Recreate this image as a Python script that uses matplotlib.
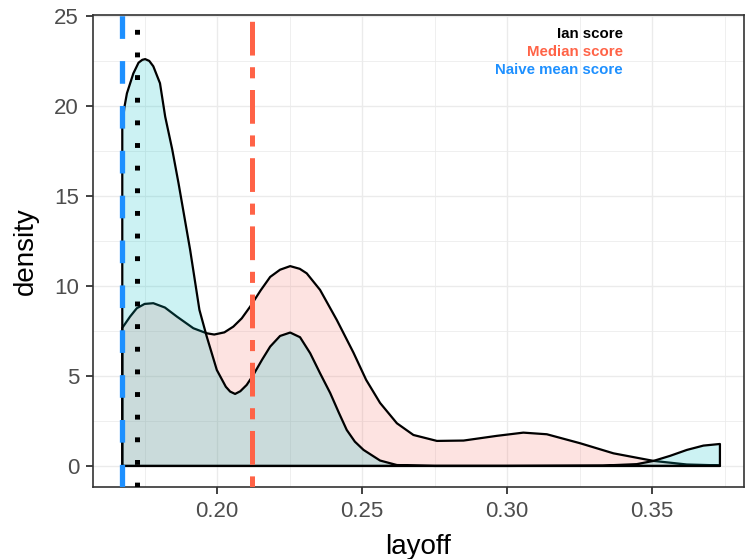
import numpy as np
import matplotlib
matplotlib.use('Agg')
from matplotlib import pyplot as plt
from matplotlib.ticker import MultipleLocator

plt.rcParams['font.family'] = ['Liberation Sans', 'DejaVu Sans']
plt.rcParams['lines.scale_dashes'] = False

# density curve, group drawn in red
red_x = [0.1673, 0.1700, 0.1723, 0.1750, 0.1780, 0.1820, 0.1861, 0.1918, 0.1964,
         0.1990, 0.2025, 0.2056, 0.2085, 0.2114, 0.2150, 0.2183, 0.2217, 0.2252,
         0.2285, 0.2309, 0.2355, 0.2413, 0.2470, 0.2514, 0.2562, 0.2620, 0.2677,
         0.2758, 0.2850, 0.2964, 0.3056, 0.3137, 0.3252, 0.3367, 0.3505, 0.3620,
         0.3734]
red_y = [7.67, 8.30, 8.76, 9.00, 9.04, 8.80, 8.30, 7.65, 7.37,
         7.30, 7.42, 7.74, 8.20, 8.85, 9.75, 10.5, 10.9, 11.1,
         10.95, 10.7, 9.78, 8.10, 6.30, 4.78, 3.50, 2.37, 1.72,
         1.39, 1.41, 1.67, 1.85, 1.76, 1.26, 0.70, 0.28, 0.08,
         0.03]

# density curve, group drawn in cyan
cyan_x = [0.1673, 0.1680, 0.1689, 0.1711, 0.1729, 0.1742, 0.1752, 0.1766, 0.1780,
          0.1803, 0.1821, 0.1845, 0.1867, 0.1907, 0.1939, 0.1964, 0.1999, 0.2030,
          0.2045, 0.2062, 0.2080, 0.2102, 0.2125, 0.2155, 0.2183, 0.2217, 0.2252,
          0.2286, 0.2321, 0.2355, 0.2390, 0.2420, 0.2447, 0.2475, 0.2505, 0.2562,
          0.2620, 0.2750, 0.3000, 0.3330, 0.3447, 0.3505, 0.3562, 0.3620, 0.3677,
          0.3734]
cyan_y = [18.8, 19.9, 20.7, 21.8, 22.4, 22.56, 22.6, 22.5, 22.2,
          21.26, 19.4, 17.6, 15.7, 12.0, 8.67, 7.20, 5.33, 4.40,
          4.13, 4.00, 4.15, 4.50, 5.06, 5.90, 6.63, 7.22, 7.41,
          7.15, 6.26, 5.15, 4.05, 2.95, 2.00, 1.35, 0.89, 0.30,
          0.05, 0.00, 0.00, 0.02, 0.10, 0.28, 0.56, 0.89, 1.13,
          1.22]

# reference lines
ian_score = 0.1725
median_score = 0.212
naive_mean_score = 0.1673

labels = ['Ian score', 'Median score', 'Naive mean score']
label_colors = ['black', 'tomato', 'dodgerblue']
label_y = [24, 23, 22]
label_x = 0.34

fig = plt.figure(figsize=(7.46, 5.59), dpi=100)
ax = fig.add_axes([93 / 746, 1 - 487 / 559, (744 - 93) / 746, (487 - 15) / 559])

red_fill = (0xF8 / 255, 0x76 / 255, 0x6D / 255, 0.2)
cyan_fill = (0x00 / 255, 0xBF / 255, 0xC4 / 255, 0.2)

for xs, ys, fc in [(red_x, red_y, red_fill), (cyan_x, cyan_y, cyan_fill)]:
    px = [xs[0]] + xs + [xs[-1]]
    py = [0] + ys + [0]
    ax.fill(px, py, facecolor=fc, edgecolor='black', lw=1.6,
            joinstyle='round', zorder=2)

ax.axvline(naive_mean_score, color='dodgerblue', lw=3.8, dashes=(16.3, 16.0),
           dash_capstyle='butt', zorder=3)
ax.axvline(median_score, color='tomato', lw=3.6, dashes=(8.0, 8.4, 24.3, 8.4),
           dash_capstyle='butt', zorder=3)
ax.axvline(ian_score, color='black', lw=3.6, dashes=(3.5, 12.8),
           dash_capstyle='butt', zorder=3)

for t, c, y in zip(labels, label_colors, label_y):
    ax.text(label_x, y, t, color=c, ha='right', va='center',
            fontsize=10.8, fontweight='bold', zorder=4)

ax.set_xlim(0.1572, 0.3817)
ax.set_ylim(-1.17, 25.05)
ax.xaxis.set_minor_locator(MultipleLocator(0.025))
ax.yaxis.set_major_locator(MultipleLocator(5))
ax.yaxis.set_minor_locator(MultipleLocator(2.5))
ax.set_xticks([0.20, 0.25, 0.30, 0.35])
ax.set_xticklabels(['0.20', '0.25', '0.30', '0.35'])

ax.grid(which='major', color='#EBEBEB', lw=1.0, zorder=0)
ax.grid(which='minor', color='#EBEBEB', lw=0.55, zorder=0)
ax.set_axisbelow(True)

for s in ax.spines.values():
    s.set_color('#333333')
    s.set_linewidth(1.2)

ax.tick_params(which='major', length=5, width=1.3, color='#333333',
               labelcolor='#4D4D4D', labelsize=16, pad=5)
ax.tick_params(which='minor', length=0)

ax.set_xlabel('layoff', fontsize=20, color='black', labelpad=9)
ax.set_ylabel('density', fontsize=20, color='black', labelpad=11)

fig.savefig('out.png', dpi=100)
